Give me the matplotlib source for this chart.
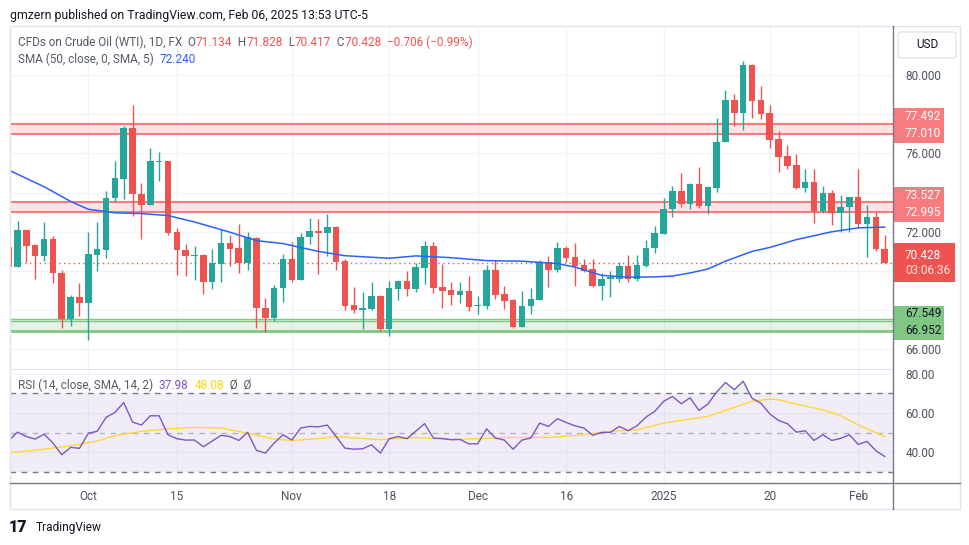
import matplotlib
matplotlib.use("Agg")
import matplotlib.pyplot as plt
import matplotlib.transforms as mtransforms
import numpy as np
from matplotlib.patches import Rectangle, FancyBboxPatch
from matplotlib.lines import Line2D
from matplotlib.offsetbox import TextArea, HPacker, AnnotationBbox

plt.rcParams['font.family'] = ['Roboto', 'DejaVu Sans']

# WTI crude oil CFD, daily candles (18 Sep 2024 .. 6 Feb 2025)
opens = [71.20, 70.22, 72.07, 71.31, 70.77, 71.62, 69.91, 67.57, 68.69, 68.37,
         70.82, 71.07, 73.74, 74.71, 77.28, 73.95, 73.37, 75.56, 75.60, 71.97,
         71.09, 70.77, 70.83, 69.44, 70.37, 71.41, 71.16, 70.43, 71.70, 68.13,
         67.59, 69.12, 70.60, 69.52, 71.75, 72.06, 71.94, 72.25, 70.51, 68.27,
         68.01, 68.08, 68.73, 67.04, 69.08, 69.49, 69.08, 70.17, 71.28, 69.19,
         69.03, 68.78, 68.98, 68.22, 68.22, 70.05, 68.83, 68.52, 67.16, 68.22,
         68.52, 70.48, 70.05, 71.18, 70.72, 70.31, 70.10, 69.24, 69.58, 69.60,
         70.26, 69.60, 70.26, 71.16, 71.91, 73.15, 74.09, 73.44, 74.45, 73.34,
         74.26, 76.56, 78.74, 78.04, 80.49, 78.74, 78.04, 76.75, 75.88, 75.42,
         74.26, 74.55, 73.07, 74.00, 72.98, 73.24, 73.80, 72.39, 72.78, 71.134]
highs = [71.25, 72.53, 72.10, 71.40, 72.48, 71.80, 70.05, 68.76, 69.40, 72.00,
         72.50, 74.08, 75.61, 77.40, 78.47, 74.47, 76.26, 76.05, 75.62, 72.18,
         71.36, 71.28, 70.85, 71.10, 72.16, 71.84, 72.38, 71.97, 71.72, 68.64,
         69.27, 70.85, 71.50, 71.95, 72.72, 72.67, 72.92, 72.32, 70.62, 69.20,
         68.93, 69.46, 68.78, 69.49, 69.52, 70.02, 70.39, 71.53, 71.48, 70.36,
         69.44, 69.44, 69.75, 68.73, 70.31, 70.56, 69.24, 68.57, 68.98, 69.15,
         70.56, 70.77, 71.48, 71.28, 71.45, 70.60, 70.62, 69.88, 70.02, 70.48,
         70.82, 70.82, 71.59, 72.32, 73.71, 74.34, 74.99, 74.47, 75.32, 74.34,
         77.82, 79.25, 79.05, 80.73, 80.55, 79.42, 78.48, 77.16, 76.44, 75.98,
         75.21, 75.18, 74.34, 74.11, 73.88, 73.80, 75.20, 73.37, 73.03, 71.828]
lows = [70.20, 70.20, 70.46, 69.57, 70.51, 69.40, 67.11, 67.19, 67.70, 66.48,
        70.00, 70.65, 73.52, 73.66, 72.81, 71.62, 73.37, 74.59, 71.84, 69.80,
        69.75, 69.54, 68.81, 69.10, 69.44, 70.26, 69.90, 70.03, 67.11, 66.89,
        67.45, 68.42, 69.44, 69.52, 71.36, 69.83, 70.75, 70.05, 68.01, 67.88,
        67.04, 68.01, 66.94, 66.70, 68.52, 68.73, 68.95, 69.34, 68.86, 68.13,
        68.27, 68.39, 67.98, 67.83, 68.05, 68.59, 68.06, 67.08, 67.16, 67.81,
        68.52, 69.20, 69.97, 70.46, 69.24, 69.97, 69.17, 68.52, 68.69, 69.46,
        69.43, 69.51, 70.19, 70.94, 71.91, 72.78, 73.25, 73.15, 73.20, 72.90,
        74.05, 76.56, 77.41, 77.21, 77.82, 77.77, 76.27, 75.06, 75.21, 74.17,
        74.05, 72.44, 72.95, 72.35, 72.01, 72.01, 72.27, 70.73, 71.04, 70.417]
closes = [70.22, 72.07, 71.28, 70.77, 71.62, 69.90, 67.57, 68.69, 68.37, 70.85,
          71.10, 73.74, 74.73, 77.28, 73.93, 73.37, 75.60, 75.62, 71.96, 71.07,
          70.77, 70.83, 69.44, 70.39, 71.41, 71.12, 70.43, 71.73, 68.11, 67.59,
          69.15, 70.60, 69.52, 71.75, 72.06, 71.94, 72.27, 70.48, 68.22, 68.01,
          68.10, 68.73, 67.04, 69.15, 69.49, 69.08, 70.19, 71.28, 69.15, 69.00,
          68.78, 68.98, 68.18, 68.27, 70.05, 68.80, 68.49, 67.16, 68.22, 68.57,
          70.48, 70.05, 71.18, 70.68, 70.26, 70.02, 69.24, 69.60, 69.68, 70.26,
          69.60, 70.31, 71.18, 71.96, 73.17, 74.09, 73.44, 74.45, 73.34, 74.31,
          76.59, 78.74, 78.04, 80.49, 78.69, 77.99, 76.70, 75.84, 75.37, 74.26,
          74.55, 73.07, 74.00, 72.98, 73.27, 73.80, 72.39, 72.78, 71.11, 70.428]

# SMA(50) line, read at some candles
sma_idx = [0, 4, 7, 9, 12, 15, 18, 21, 25, 28, 31, 35, 38, 43, 46, 50, 54, 58,
           62, 64, 67, 70, 73, 75, 77, 79, 81, 84, 86, 89, 93, 96, 99]
sma_val = [75.15, 74.30, 73.55, 73.15, 72.97, 72.93, 72.83, 72.50, 71.98, 71.55,
           71.40, 71.00, 70.78, 70.65, 70.77, 70.68, 70.53, 70.50, 70.38, 70.20,
           69.78, 69.68, 69.70, 69.74, 69.90, 70.10, 70.50, 71.00, 71.20, 71.60,
           72.00, 72.20, 72.24]

# RSI(14), one value per candle
rsi = [46.0, 50.3, 48.1, 46.8, 49.3, 44.8, 38.9, 42.6, 42.1, 49.8,
       50.7, 57.8, 60.3, 65.3, 55.4, 53.9, 58.6, 58.6, 49.0, 47.0,
       46.3, 46.3, 42.9, 45.8, 48.7, 48.1, 46.1, 50.2, 41.1, 39.7,
       44.8, 49.0, 46.3, 52.4, 53.2, 53.0, 53.9, 48.1, 42.2, 41.7,
       41.9, 43.9, 39.7, 47.0, 48.1, 47.0, 50.8, 54.6, 47.3, 47.1,
       46.5, 46.6, 44.4, 44.4, 52.0, 47.3, 46.3, 41.7, 46.3, 47.3,
       54.9, 53.2, 57.1, 55.2, 53.5, 52.4, 48.7, 50.2, 50.2, 53.2,
       51.0, 53.5, 57.9, 60.8, 65.9, 68.4, 64.7, 67.7, 61.3, 64.5,
       70.6, 75.5, 71.8, 76.1, 67.5, 65.0, 59.6, 56.2, 54.6, 50.3,
       51.0, 46.1, 49.0, 46.1, 47.1, 49.0, 44.1, 45.6, 40.9, 37.98]

# RSI smoothing (SMA 14), read at some candles
rsi_ma_idx = [0, 3, 7, 10, 12, 15, 18, 21, 24, 27, 30, 32, 35, 37, 40, 42, 46,
              50, 53, 56, 61, 65, 68, 71, 74, 79, 82, 84, 86, 87, 89, 92, 94, 96, 99]
rsi_ma_val = [39.9, 41.1, 43.4, 45.8, 48.5, 50.7, 52.0, 52.7, 52.4, 49.8, 46.8,
              46.1, 47.0, 48.1, 47.1, 46.5, 47.6, 46.5, 47.0, 47.6, 47.6, 49.0,
              50.7, 51.5, 54.9, 58.3, 62.8, 66.0, 67.0, 66.7, 64.5, 61.6, 58.6,
              54.0, 48.08]

tick_idx = [9, 19, 32, 43, 53, 63, 74, 86, 96]
tick_lbl = ['Oct', '15', 'Nov', '18', 'Dec', '16', '2025', '20', 'Feb']

res_zones = [(77.010, 77.492), (72.995, 73.527)]
sup_zone = (66.952, 67.549)
last_price = 70.428

UP, DOWN = '#26a69a', '#ef5350'
GRID = '#f0f3fa'
TXT = '#4c525e'
W, H = 970, 545


def fx(px):
    return px / W


def fy(py):
    return 1 - py / H


fig = plt.figure(figsize=(9.7, 5.45), dpi=100)
ax = fig.add_axes([fx(10), fy(369), fx(883), (369 - 26) / H])
ax2 = fig.add_axes([fx(10), fy(482.7), fx(883), (482.7 - 369) / H])

# ---- price pane ----
x = np.arange(len(opens))
o, h, l, c = map(np.array, (opens, highs, lows, closes))
cols = np.where(c >= o, UP, DOWN)
ax.vlines(x, l, h, colors=cols, lw=1, zorder=4)
ax.bar(x, np.maximum(np.abs(c - o), 0.05), bottom=np.minimum(o, c), width=0.74,
       color=cols, lw=0, zorder=4)

for lo, hi in res_zones:
    ax.axhspan(lo, hi, color='#f7525f', alpha=0.15, lw=0, zorder=1)
    ax.axhline(hi, color='#f77c80', lw=1.5, zorder=2)
    ax.axhline(lo, color='#f77c80', lw=1.5, zorder=2)
ax.axhspan(sup_zone[0], sup_zone[1], color='#4caf50', alpha=0.15, lw=0, zorder=1)
ax.axhline(sup_zone[1], color='#81c784', lw=1, zorder=2)
ax.axhline(sup_zone[1] - 0.1, color='#81c784', lw=1, zorder=2)
ax.axhline(sup_zone[0], color='#81c784', lw=2, zorder=2)

ax.axhline(last_price, color=DOWN, lw=1, ls=(0, (1, 2.5)), zorder=3)
ax.plot(sma_idx, sma_val, color='#2962ff', lw=1.1, zorder=5)

ax.set_xlim(0.15, 99.93)
ax.set_ylim(65.0, 82.5)
ax.set_xticks(tick_idx)
yt = np.arange(66, 81, 2)
ax.set_yticks(yt)
# labels hidden behind the price tags are not drawn by the scale
ax.set_yticklabels(['' if v in (70, 74, 78) else f'{v:.3f}' for v in yt])
ax.yaxis.tick_right()
ax.tick_params(axis='y', length=0, pad=9, labelsize=8.5, labelcolor=TXT)
ax.tick_params(axis='x', length=0, labelbottom=False)
ax.grid(color=GRID, lw=1, zorder=0)
ax.set_axisbelow(True)
for s in ax.spines.values():
    s.set_visible(False)

# price tags on the scale
trans = mtransforms.blended_transform_factory(ax.transAxes, ax.transData)


def tag(rows, lo, hi, face, width_px):
    ax.add_patch(Rectangle((1.0, lo), width_px / 883, hi - lo, transform=trans,
                           facecolor=face, edgecolor='none', clip_on=False, zorder=6))
    for txt, yv, col in rows:
        ax.text(1 + 12 / 883, yv, txt, transform=trans, color=col, fontsize=8.5,
                va='center', ha='left', clip_on=False, zorder=7)


step = 0.867   # one label row on the scale, in price units


def pair_tag(lo, hi, face, fg):
    tag([(f'{hi:.3f}', lo + step, fg), (f'{lo:.3f}', lo, fg)],
        lo - 0.48, lo + step + 0.42, face, 51)


pair_tag(*res_zones[0], '#f77c80', 'white')
pair_tag(*res_zones[1], '#f77c80', 'white')
tag([(f'{last_price:.3f}', last_price + 0.38, 'white'), ('03:06:36', last_price - 0.38, '#fde0e0')],
    last_price - 0.98, last_price + 0.98, DOWN, 62)
pair_tag(*sup_zone, '#81c784', '#131722')

# ---- RSI pane ----
xr = np.arange(len(rsi))
r = np.array(rsi)
ax2.axhspan(30, 70, color='#7e57c2', alpha=0.1, lw=0, zorder=1)
ax2.fill_between(xr, r, 70, where=r > 70, interpolate=True, color='#4caf50', alpha=0.12, lw=0, zorder=1)
ax2.axhline(70, color='#787b86', lw=1, ls=(0, (4, 4)), zorder=2)
ax2.axhline(30, color='#787b86', lw=1, ls=(0, (4, 4)), zorder=2)
ax2.axhline(50, color='#787b86', lw=1, ls=(0, (4, 4)), alpha=0.5, zorder=2)
ax2.plot(xr, r, color='#7e57c2', lw=1, zorder=4)
ax2.plot(rsi_ma_idx, rsi_ma_val, color='#fdd835', lw=1, zorder=3)

ax2.set_xlim(0.15, 99.93)
ax2.set_ylim(24.7, 82.3)
ax2.set_xticks(tick_idx)
ax2.set_xticklabels(tick_lbl)
ax2.set_yticks([40, 60, 80])
ax2.set_yticklabels(['40.00', '60.00', '80.00'])
ax2.yaxis.tick_right()
ax2.tick_params(axis='y', length=0, pad=9, labelsize=8.5, labelcolor=TXT)
ax2.tick_params(axis='x', length=0, pad=5.5, labelsize=8.5, labelcolor=TXT)
ax2.grid(color=GRID, lw=1, zorder=0)
ax2.set_axisbelow(True)
for k, s in ax2.spines.items():
    s.set_visible(k == 'top')
ax2.spines['top'].set_color('#e0e3eb')

# ---- frame, scale lines, USD box ----
fig.add_artist(Rectangle((fx(10), fy(509)), fx(950), 483 / H, transform=fig.transFigure,
                         fill=False, edgecolor='#e0e3eb', lw=1, zorder=10))
fig.add_artist(Line2D([fx(893), fx(893)], [fy(26), fy(509)], transform=fig.transFigure,
                      color='#787b86', lw=1, zorder=10))
fig.add_artist(Line2D([fx(10), fx(960)], [fy(482.7), fy(482.7)], transform=fig.transFigure,
                      color='#787b86', lw=1, zorder=10))
fig.add_artist(FancyBboxPatch((fx(898), fy(58)), fx(58), 26 / H, transform=fig.transFigure,
                              boxstyle='round,pad=0,rounding_size=0.004', facecolor='white',
                              edgecolor='#e0e3eb', lw=1, zorder=10))
fig.text(fx(927), fy(45), 'USD', fontsize=8.5, color='#131722', ha='center', va='center', zorder=11)


# ---- legend rows ----
def legend_row(parts, px, py, size=8.5):
    areas = [TextArea(t, textprops=dict(color=col, fontsize=size)) for t, col in parts]
    box = HPacker(children=areas, align='baseline', pad=0, sep=0)
    ab = AnnotationBbox(box, (fx(px), fy(py)), xycoords='figure fraction',
                        box_alignment=(0, 0.5), frameon=False, pad=0, zorder=12)
    fig.add_artist(ab)


GREY = '#555a66'
legend_row([('CFDs on Crude Oil (WTI), 1D, FX  O', GREY), ('71.134', DOWN), ('  H', GREY),
            ('71.828', DOWN), ('  L', GREY), ('70.417', DOWN), ('  C', GREY),
            ('70.428  \u22120.706 (\u22120.99%)', DOWN)], 18, 42)
legend_row([('SMA (50, close, 0, SMA, 5)  ', GREY), ('72.240', '#2962ff')], 18, 59)
legend_row([('RSI (14, close, SMA, 14, 2)  ', GREY), ('37.98', '#7e57c2'), ('  ', GREY),
            ('48.08', '#f5d90a'), ('  \u00d8  \u00d8', GREY)], 18, 385)

fig.text(fx(10), fy(15), 'gmzern published on TradingView.com, Feb 06, 2025 13:53 UTC-5',
         fontsize=8.8, color='#131722', va='center')
fig.text(fx(9), fy(527), '17', fontsize=11.5, fontweight='black', color='#131722', va='center')
fig.text(fx(36), fy(527), 'TradingView', fontsize=8.6, color='#131722', va='center')

fig.savefig('out.png', dpi=100, facecolor='white')
